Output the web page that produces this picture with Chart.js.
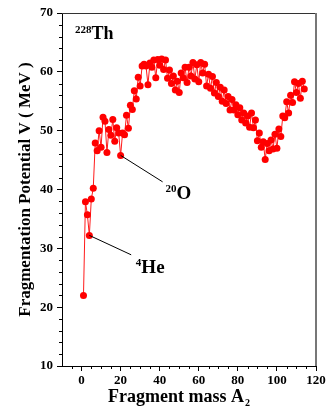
<!DOCTYPE html>
<html lang="en">
<head>
  <meta charset="UTF-8" />
  <title>Fragmentation potential 228Th</title>
  <script src="https://cdn.jsdelivr.net/npm/chart.js"></script>
  <style>
    body { margin: 0; background: #fff; }
    canvas { display: block; }
  </style>
</head>
<body>
  <canvas id="fragChart" width="326" height="407"></canvas>
  <script>
    // fragment mass A2
    const masses = [
      1, 2, 3, 4, 5, 6, 7, 8, 9, 10, 11, 12, 13, 14, 15, 16, 17, 18, 19, 20,
      21, 22, 23, 24, 25, 26, 27, 28, 29, 30, 31, 32, 33, 34, 35, 36, 37, 38, 39, 40,
      41, 42, 43, 44, 45, 46, 47, 48, 49, 50, 51, 52, 53, 54, 55, 56, 57, 58, 59, 60,
      61, 62, 63, 64, 65, 66, 67, 68, 69, 70, 71, 72, 73, 74, 75, 76, 77, 78, 79, 80,
      81, 82, 83, 84, 85, 86, 87, 88, 89, 90, 91, 92, 93, 94, 95, 96, 97, 98, 99, 100,
      101, 102, 103, 104, 105, 106, 107, 108, 109, 110, 111, 112, 113, 114
    ];
    // fragmentation potential V (MeV)
    const potential = [
      22.0, 37.9, 35.7, 32.2, 38.4, 40.2, 47.9, 46.6, 50.0, 47.2,
      52.3, 51.6, 46.3, 50.2, 49.2, 51.9, 48.2, 50.5, 49.6, 45.8,
      49.6, 49.3, 52.6, 50.4, 54.3, 53.6, 56.8, 55.4, 59.1, 57.6,
      61.0, 61.3, 61.0, 57.8, 61.5, 60.8, 62.0, 59.0, 62.1, 61.1,
      62.2, 60.4, 62.0, 58.9, 60.3, 58.0, 59.3, 56.9, 58.4, 56.5,
      59.8, 59.0, 60.8, 58.2, 60.8, 59.3, 61.6, 58.8, 61.2, 58.3,
      61.6, 59.8, 61.3, 57.6, 59.6, 57.2, 59.2, 56.4, 58.2, 55.8,
      57.4, 55.0, 56.9, 54.6, 55.8, 53.5, 55.3, 53.5, 54.4, 52.7,
      53.9, 51.8, 53.0, 51.3, 52.5, 50.6, 53.0, 50.5, 51.8, 48.3,
      49.6, 47.2, 48.1, 45.1, 47.8, 46.6, 48.4, 46.9, 49.4, 47.0,
      50.3, 49.0, 52.5, 52.2, 54.9, 53.0, 56.0, 54.8, 58.3, 56.5,
      58.0, 55.5, 58.4, 57.1
    ];
    const xTicks = [0, 20, 40, 60, 80, 100, 120];
    const yTicks = [10, 20, 30, 40, 50, 60, 70];

    // labelled fragments: mass, label anchor (data units)
    const marked = [
      { mass: 20, sup: '20', text: 'O', lineTo: [41.5, 41.3], at: [43.0, 39.4] },
      { mass: 4, sup: '4', text: 'He', lineTo: [25.4, 28.9], at: [27.8, 26.8] }
    ];
    const nucleus = { sup: '228', text: 'Th', at: [-3.4, 66.4] };

    const SERIF = '"Liberation Serif", "Times New Roman", serif';

    function drawSup(ctx, x, y, sup, text, supSize, size) {
      ctx.textBaseline = 'alphabetic';
      ctx.textAlign = 'left';
      ctx.font = `bold ${supSize}px ${SERIF}`;
      ctx.fillText(sup, x, y - size * 0.36);
      const w = ctx.measureText(sup).width;
      ctx.font = `bold ${size}px ${SERIF}`;
      ctx.fillText(text, x + w, y);
    }

    const extras = {
      id: 'extras',
      afterDraw(chart) {
        const { ctx, chartArea: a, scales: { x, y } } = chart;
        ctx.save();
        // frame: top and right
        ctx.strokeStyle = '#333';
        ctx.lineWidth = 1;
        ctx.beginPath();
        ctx.moveTo(a.left, a.top + 0.5);
        ctx.lineTo(a.right, a.top + 0.5);
        ctx.stroke();
        ctx.strokeStyle = '#777';
        ctx.lineWidth = 2;
        ctx.beginPath();
        ctx.moveTo(a.right, a.top);
        ctx.lineTo(a.right, a.bottom);
        ctx.stroke();

        // minor ticks
        ctx.strokeStyle = '#000';
        ctx.lineWidth = 1;
        ctx.beginPath();
        for (let v = 12; v < 70; v += 2) {
          if (v % 10 === 0) continue;
          const py = Math.round(y.getPixelForValue(v)) + 0.5;
          ctx.moveTo(a.left - 3, py);
          ctx.lineTo(a.left, py);
        }
        for (let v = -5; v < 120; v += 5) {
          if (v % 20 === 0) continue;
          const px = Math.round(x.getPixelForValue(v)) + 0.5;
          ctx.moveTo(px, a.bottom);
          ctx.lineTo(px, a.bottom + 3);
        }
        ctx.stroke();

        // leader lines and fragment labels
        ctx.fillStyle = '#000';
        marked.forEach(m => {
          const i = masses.indexOf(m.mass);
          ctx.beginPath();
          ctx.moveTo(x.getPixelForValue(m.mass), y.getPixelForValue(potential[i]));
          ctx.lineTo(x.getPixelForValue(m.lineTo[0]), y.getPixelForValue(m.lineTo[1]));
          ctx.stroke();
          drawSup(ctx, x.getPixelForValue(m.at[0]), y.getPixelForValue(m.at[1]) + 6, m.sup, m.text, 11, 19);
        });
        drawSup(ctx, x.getPixelForValue(nucleus.at[0]), y.getPixelForValue(nucleus.at[1]) + 5, nucleus.sup, nucleus.text, 11, 18);

        // axis titles
        ctx.font = `bold 18px ${SERIF}`;
        ctx.textAlign = 'left';
        ctx.textBaseline = 'alphabetic';
        const xt = 'Fragment mass A';
        const w = ctx.measureText(xt).width;
        const tx = 108;
        ctx.fillText(xt, tx, 402);
        ctx.font = `bold 10px ${SERIF}`;
        ctx.fillText('2', tx + w + 1, 406);

        ctx.translate(26, (a.top + a.bottom) / 2 + 0);
        ctx.rotate(-Math.PI / 2);
        ctx.font = `bold 17px ${SERIF}`;
        ctx.textAlign = 'center';
        ctx.textBaseline = 'middle';
        ctx.fillText('Fragmentation Potential V ( MeV )', 0, 0);
        ctx.restore();
      }
    };

    const ctx = document.getElementById('fragChart').getContext('2d');
    new Chart(ctx, {
      type: 'line',
      data: {
        datasets: [{
          data: masses.map((m, i) => ({ x: m, y: potential[i] })),
          borderColor: '#ff1a1a',
          backgroundColor: '#ff0000',
          borderWidth: 1,
          pointRadius: 3.5,
          pointBorderWidth: 0,
          pointHoverRadius: 3.5,
          tension: 0
        }]
      },
      options: {
        responsive: false,
        animation: false,
        events: [],
        layout: { padding: { top: 13, right: 10, left: 0, bottom: 0 } },
        plugins: { legend: { display: false }, tooltip: { enabled: false } },
        scales: {
          x: {
            type: 'linear',
            min: -10,
            max: 120,
            afterBuildTicks: s => { s.ticks = xTicks.map(v => ({ value: v })); },
            afterFit: s => { s.height = 41; s.paddingLeft = 0; s.paddingRight = 0; },
            border: { color: '#000', width: 1 },
            grid: { drawOnChartArea: false, color: '#000', tickLength: 5 },
            ticks: {
              color: '#000',
              padding: 2,
              maxRotation: 0,
              font: { family: SERIF, weight: 'bold', size: 13 }
            }
          },
          y: {
            min: 10,
            max: 70,
            afterBuildTicks: s => { s.ticks = yTicks.map(v => ({ value: v })); },
            afterFit: s => { s.width = 62; s.paddingTop = 0; s.paddingBottom = 0; },
            border: { color: '#000', width: 1 },
            grid: { drawOnChartArea: false, color: '#000', tickLength: 5 },
            ticks: {
              color: '#000',
              padding: 4,
              font: { family: SERIF, weight: 'bold', size: 13 }
            }
          }
        }
      },
      plugins: [extras]
    });
  </script>
</body>
</html>
